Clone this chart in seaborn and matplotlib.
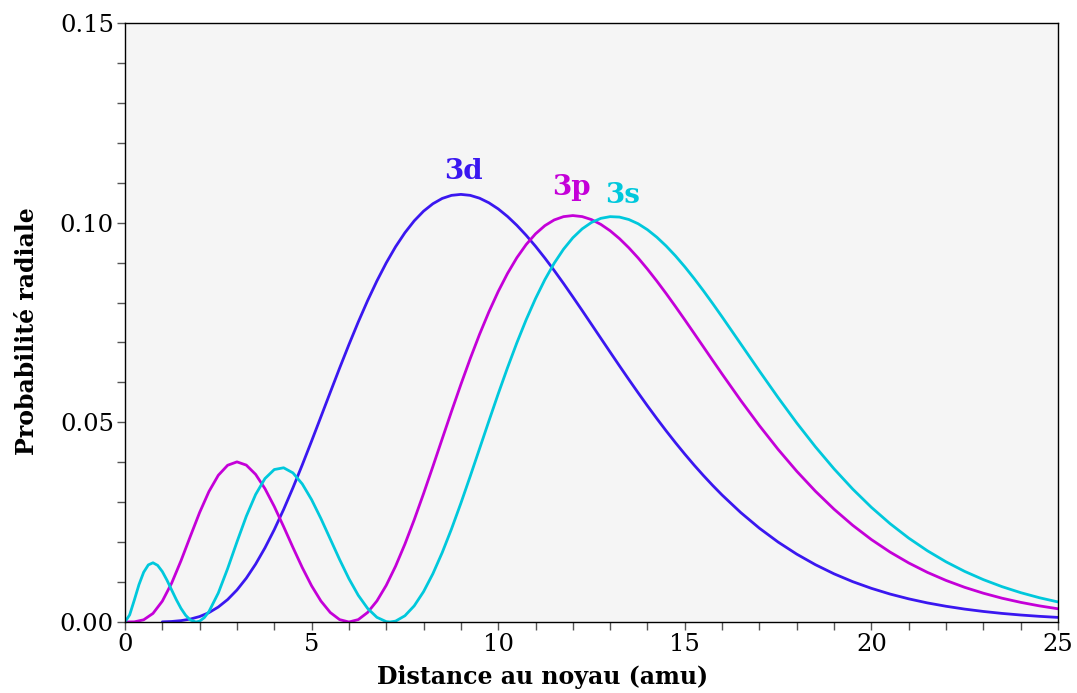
import pandas as pd
import matplotlib
matplotlib.use("Agg")
import matplotlib.pyplot as plt
from matplotlib.ticker import MultipleLocator
import seaborn as sns

# distance au noyau (amu) et probabilité radiale
r_3s = [0, 0.125, 0.25, 0.375, 0.5, 0.625, 0.75, 0.875, 1.0, 1.125, 1.25, 1.375,
        1.5, 1.625, 1.75, 1.9, 2.0, 2.125, 2.25, 2.5, 2.75, 3.0, 3.25, 3.5, 3.75,
        4.0, 4.25, 4.5, 4.75, 5.0, 5.25, 5.5, 5.75, 6.0, 6.25, 6.5, 6.75, 7.0,
        7.1, 7.25, 7.5, 7.75, 8.0, 8.25, 8.5, 8.75, 9.0, 9.25, 9.5, 9.75, 10,
        10.25, 10.5, 10.75, 11, 11.25, 11.5, 11.75, 12, 12.25, 12.5, 12.75, 13,
        13.25, 13.5, 13.75, 14, 14.25, 14.5, 14.75, 15, 15.25, 15.5, 15.75, 16,
        16.5, 17, 17.5, 18, 18.5, 19, 19.5, 20, 20.5, 21, 21.5, 22, 22.5, 23,
        23.5, 24, 24.5, 25]
p_3s = [0, 0.00179, 0.00550, 0.00938, 0.01246, 0.01430, 0.01483, 0.01418,
        0.01263, 0.01047, 0.00802, 0.00559, 0.00341, 0.00167, 0.00051, 0.0,
        0.00021, 0.00110, 0.00262, 0.00726, 0.01337, 0.02005, 0.02647, 0.03193,
        0.03592, 0.03818, 0.03862, 0.03734, 0.03457, 0.03063, 0.02590, 0.02078,
        0.01565, 0.01085, 0.00669, 0.00341, 0.00117, 0.00009, 0.0, 0.00022,
        0.00156, 0.00405, 0.00760, 0.01209, 0.01739, 0.02333, 0.02975, 0.03649,
        0.04340, 0.05032, 0.05713, 0.06369, 0.06992, 0.07571, 0.08099, 0.08572,
        0.08984, 0.09335, 0.09622, 0.09845, 0.10006, 0.10108, 0.10151, 0.10140,
        0.10079, 0.09973, 0.09823, 0.09636, 0.09416, 0.09168, 0.08895, 0.08602,
        0.08293, 0.07971, 0.07640, 0.06963, 0.06284, 0.05620, 0.04984, 0.04387,
        0.03834, 0.03328, 0.02871, 0.02463, 0.02101, 0.01784, 0.01507, 0.01267,
        0.01061, 0.00885, 0.00735, 0.00608, 0.00502]

r_3p = [0, 0.25, 0.5, 0.75, 1.0, 1.25, 1.5, 1.75, 2.0, 2.25, 2.5, 2.75, 3.0,
        3.25, 3.5, 3.75, 4.0, 4.25, 4.5, 4.75, 5.0, 5.25, 5.5, 5.75, 6.0, 6.25,
        6.5, 6.75, 7.0, 7.25, 7.5, 7.75, 8.0, 8.25, 8.5, 8.75, 9.0, 9.25, 9.5,
        9.75, 10, 10.25, 10.5, 10.75, 11, 11.25, 11.5, 11.75, 12, 12.25, 12.5,
        12.75, 13, 13.25, 13.5, 13.75, 14, 14.25, 14.5, 14.75, 15, 15.25, 15.5,
        15.75, 16, 16.5, 17, 17.5, 18, 18.5, 19, 19.5, 20, 20.5, 21, 21.5, 22,
        22.5, 23, 23.5, 24, 24.5, 25]
p_3p = [0, 0.00004, 0.00055, 0.00215, 0.00522, 0.00973, 0.01533, 0.02144,
        0.02743, 0.03269, 0.03674, 0.03925, 0.04010, 0.03929, 0.03697, 0.03340,
        0.02892, 0.02389, 0.01867, 0.01363, 0.00906, 0.00525, 0.00238, 0.00060,
        0.0, 0.00060, 0.00238, 0.00527, 0.00918, 0.01397, 0.01950, 0.02561,
        0.03215, 0.03895, 0.04588, 0.05277, 0.05949, 0.06595, 0.07203, 0.07765,
        0.08276, 0.08729, 0.09123, 0.09453, 0.09720, 0.09925, 0.10068, 0.10151,
        0.10178, 0.10152, 0.10077, 0.09957, 0.09797, 0.09600, 0.09371, 0.09116,
        0.08836, 0.08538, 0.08225, 0.07900, 0.07567, 0.07228, 0.06888, 0.06547,
        0.06209, 0.05547, 0.04916, 0.04323, 0.03775, 0.03275, 0.02824, 0.02421,
        0.02064, 0.01751, 0.01479, 0.01243, 0.01041, 0.00868, 0.00721, 0.00596,
        0.00492, 0.00404, 0.00331]

r_3d = [1.0, 1.25, 1.5, 1.75, 2.0, 2.25, 2.5, 2.75, 3.0, 3.25, 3.5, 3.75, 4.0,
        4.25, 4.5, 4.75, 5.0, 5.25, 5.5, 5.75, 6.0, 6.25, 6.5, 6.75, 7.0, 7.25,
        7.5, 7.75, 8.0, 8.25, 8.5, 8.75, 9.0, 9.25, 9.5, 9.75, 10, 10.25, 10.5,
        10.75, 11, 11.25, 11.5, 11.75, 12, 12.25, 12.5, 12.75, 13, 13.25, 13.5,
        13.75, 14, 14.25, 14.5, 14.75, 15, 15.25, 15.5, 15.75, 16, 16.5, 17,
        17.5, 18, 18.5, 19, 19.5, 20, 20.5, 21, 21.5, 22, 22.5, 23, 23.5, 24,
        24.5, 25]
p_3d = [0.00004, 0.00013, 0.00034, 0.00073, 0.00137, 0.00235, 0.00375, 0.00562,
        0.00802, 0.01097, 0.01449, 0.01856, 0.02313, 0.02817, 0.03361, 0.03935,
        0.04531, 0.05140, 0.05751, 0.06357, 0.06946, 0.07512, 0.08046, 0.08541,
        0.08993, 0.09397, 0.09748, 0.10046, 0.10288, 0.10474, 0.10607, 0.10684,
        0.10708, 0.10684, 0.10613, 0.10498, 0.10345, 0.10155, 0.09933, 0.09683,
        0.09409, 0.09114, 0.08803, 0.08478, 0.08142, 0.07800, 0.07453, 0.07105,
        0.06758, 0.06413, 0.06073, 0.05739, 0.05412, 0.05095, 0.04787, 0.04490,
        0.04204, 0.03929, 0.03667, 0.03417, 0.03179, 0.02740, 0.02348, 0.02002,
        0.01699, 0.01435, 0.01206, 0.01010, 0.00843, 0.00700, 0.00580, 0.00478,
        0.00394, 0.00323, 0.00264, 0.00215, 0.00175, 0.00142, 0.00115]

orbitals = ["3d", "3p", "3s"]
palette = {"3s": "#00c8dc", "3p": "#c400d8", "3d": "#3a17f0"}
label_pos = {"3d": (9.08, 0.1127), "3p": (11.95, 0.1087), "3s": (13.34, 0.1067)}

df = pd.concat([
    pd.DataFrame({"r": r_3s, "p": p_3s, "orbitale": "3s"}),
    pd.DataFrame({"r": r_3p, "p": p_3p, "orbitale": "3p"}),
    pd.DataFrame({"r": r_3d, "p": p_3d, "orbitale": "3d"}),
], ignore_index=True)

sns.set_theme(style="ticks")
plt.rcParams["font.family"] = ["DejaVu Serif"]
plt.rcParams["text.color"] = "black"

fig = plt.figure(figsize=(10.77, 6.93), dpi=100)
ax = fig.add_axes([125 / 1077, 71 / 693, 933 / 1077, 599 / 693])
ax.set_facecolor("#f5f5f5")

sns.lineplot(data=df, x="r", y="p", hue="orbitale", hue_order=orbitals,
             palette=palette, estimator=None, sort=True, linewidth=2.0,
             legend=False, ax=ax)

# étiquettes des orbitales au-dessus des maxima
for orb in orbitals:
    x, y = label_pos[orb]
    ax.text(x, y, orb, color=palette[orb], fontsize=20, fontweight="bold",
            ha="center", va="center")

ax.set_xlim(0, 25)
ax.set_ylim(0, 0.15)
ax.xaxis.set_major_locator(MultipleLocator(5))
ax.xaxis.set_minor_locator(MultipleLocator(1))
ax.yaxis.set_major_locator(MultipleLocator(0.05))
ax.yaxis.set_minor_locator(MultipleLocator(0.01))
ax.yaxis.set_major_formatter(plt.FuncFormatter(lambda v, _: f"{v:.2f}"))
ax.tick_params(which="both", direction="out", length=6, width=1, color="#555555",
               labelsize=17.5, labelcolor="black", pad=2)
for s in ax.spines.values():
    s.set_color("black")
    s.set_linewidth(1.0)

ax.set_xlabel("")
ax.set_ylabel("")
fig.text(543 / 1077, 1 - 677 / 693, "Distance au noyau (amu)", fontsize=17,
         fontweight="bold", color="black", ha="center", va="center")
fig.text(27 / 1077, 1 - 331 / 693, "Probabilité radiale", fontsize=17,
         fontweight="bold", color="black", ha="center", va="center", rotation=90)

fig.savefig("out.png", dpi=100)
